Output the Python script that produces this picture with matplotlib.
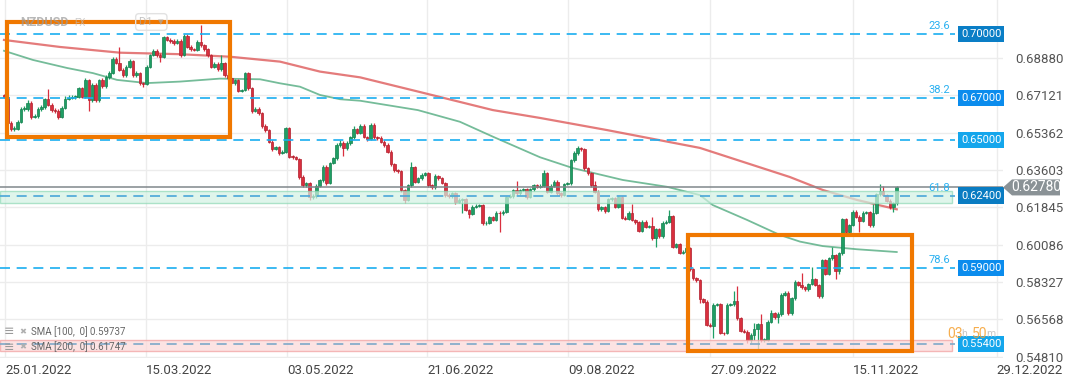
import numpy as np
import matplotlib
matplotlib.use('Agg')
from matplotlib import pyplot as plt
from matplotlib.patches import Rectangle, Polygon
import matplotlib.transforms as mtransforms

plt.rcParams['font.family'] = ['Roboto', 'DejaVu Sans']

# NZDUSD D1 candles (6 per week)
first_open = 0.6712
close = [
    # Jan - Mar
    0.6705, 0.6581, 0.6553, 0.6554, 0.6587, 0.6647, 0.6647, 0.6675, 0.6611, 0.6614,
    0.6647, 0.6656, 0.6694, 0.6666, 0.6642, 0.6639, 0.6611, 0.6652, 0.6694, 0.6699,
    0.6704, 0.6705, 0.6746, 0.6705, 0.6784, 0.6689, 0.6760, 0.6689, 0.6784, 0.6755,
    0.6798, 0.6816, 0.6882, 0.6865, 0.6831, 0.6807, 0.6845, 0.6874, 0.6807, 0.6816,
    0.6769, 0.6765, 0.6846, 0.6901, 0.6921, 0.6901, 0.6892, 0.6984, 0.6972, 0.6968,
    0.6958, 0.6967,
    # Apr - May
    0.6901, 0.6991, 0.6940, 0.6929, 0.6925, 0.6964, 0.6948, 0.6928, 0.6901, 0.6846,
    0.6859, 0.6835, 0.6864, 0.6807, 0.6793, 0.6769, 0.6784, 0.6732, 0.6736, 0.6815,
    0.6746, 0.6639, 0.6648, 0.6628, 0.6567, 0.6548, 0.6493, 0.6459, 0.6468, 0.6440,
    0.6446, 0.6558, 0.6423, 0.6421, 0.6412, 0.6328, 0.6289, 0.6299, 0.6234, 0.6238,
    0.6285, 0.6313, 0.6376, 0.6299, 0.6394, 0.6415, 0.6478, 0.6488, 0.6462, 0.6488,
    0.6514, 0.6552,
    # Jun - Jul
    0.6536, 0.6567, 0.6517, 0.6506, 0.6572, 0.6514, 0.6511, 0.6493, 0.6478, 0.6446,
    0.6388, 0.6360, 0.6355, 0.6266, 0.6219, 0.6289, 0.6373, 0.6305, 0.6321, 0.6336,
    0.6344, 0.6289, 0.6279, 0.6332, 0.6322, 0.6300, 0.6242, 0.6238, 0.6250, 0.6211,
    0.6219, 0.6222, 0.6172, 0.6153, 0.6187, 0.6191, 0.6194, 0.6109, 0.6111, 0.6137,
    0.6125, 0.6159, 0.6156, 0.6164, 0.6234, 0.6238, 0.6266, 0.6250, 0.6266, 0.6269,
    0.6233, 0.6269, 0.6289,
    # Aug - Sep
    0.6281, 0.6285, 0.6344, 0.6258, 0.6285, 0.6305, 0.6250, 0.6242, 0.6294, 0.6297,
    0.6407, 0.6439, 0.6462, 0.6457, 0.6368, 0.6344, 0.6289, 0.6258, 0.6175, 0.6184,
    0.6168, 0.6222, 0.6227, 0.6187, 0.6234, 0.6136, 0.6131, 0.6159, 0.6125, 0.6114,
    0.6074, 0.6117, 0.6093, 0.6096, 0.6039, 0.6081, 0.6049, 0.6112, 0.6117, 0.6144,
    0.5999, 0.6012, 0.5971, 0.5976, 0.5992,
    # Sep - Oct
    0.5893, 0.5850, 0.5842, 0.5752, 0.5740, 0.5631, 0.5627, 0.5725, 0.5728, 0.5594,
    0.5592, 0.5725, 0.5729, 0.5745, 0.5662, 0.5604, 0.5599, 0.5560, 0.5584, 0.5610,
    0.5635, 0.5560, 0.5560, 0.5646, 0.5686, 0.5667, 0.5682, 0.5772, 0.5783, 0.5686,
    0.5756, 0.5834,
    # Nov
    0.5819, 0.5808, 0.5799, 0.5824, 0.5846, 0.5819, 0.5767, 0.5936, 0.5871, 0.5944,
    0.5960, 0.5886, 0.5968, 0.6128, 0.6070, 0.6101, 0.6164, 0.6140, 0.6121, 0.6159,
    0.6161, 0.6101, 0.6159, 0.6247, 0.6263, 0.6242, 0.6216, 0.6184, 0.6203, 0.6278,
]
high = [
    .6720, .6712, .6590, .6565, .6595, .6655, .6660, .6690, .6684, .6625,
    .6655, .6668, .6700, .6740, .6675, .6650, .6648, .6660, .6708, .6712,
    .6712, .6715, .6752, .6752, .6795, .6790, .6768, .6768, .6790, .6792,
    .6806, .6826, .6890, .6890, .6940, .6840, .6852, .6882, .6880, .6825,
    .6822, .6775, .6852, .6908, .6930, .6928, .6910, .6992, .6990, .6980,
    .6975, .6975,
    .6975, .7000, .6998, .6948, .6935, .6972, .7042, .6955, .6935, .6908,
    .6866, .6866, .6901, .6870, .6815, .6800, .6790, .6790, .6742, .6822,
    .6822, .6752, .6655, .6655, .6635, .6575, .6555, .6500, .6475, .6475,
    .6455, .6562, .6562, .6430, .6428, .6418, .6335, .6305, .6305, .6248,
    .6292, .6320, .6385, .6382, .6400, .6422, .6485, .6500, .6495, .6495,
    .6522, .6565,
    .6560, .6575, .6575, .6522, .6580, .6580, .6520, .6518, .6500, .6485,
    .6452, .6395, .6365, .6362, .6272, .6295, .6399, .6380, .6328, .6345,
    .6350, .6350, .6295, .6340, .6338, .6328, .6305, .6250, .6258, .6256,
    .6226, .6228, .6228, .6178, .6193, .6198, .6200, .6200, .6118, .6145,
    .6145, .6166, .6165, .6170, .6240, .6245, .6272, .6308, .6272, .6276,
    .6275, .6276, .6296,
    .6296, .6292, .6360, .6350, .6292, .6312, .6312, .6256, .6300, .6304,
    .6412, .6448, .6473, .6468, .6462, .6375, .6350, .6310, .6264, .6190,
    .6190, .6228, .6234, .6234, .6240, .6240, .6142, .6165, .6200, .6130,
    .6120, .6124, .6124, .6102, .6139, .6088, .6088, .6118, .6124, .6170,
    .6150, .6018, .6018, .5982, .5998,
    .5998, .5900, .5856, .5848, .5758, .5746, .5638, .5732, .5735, .5734,
    .5600, .5732, .5736, .5790, .5814, .5668, .5610, .5606, .5592, .5640,
    .5642, .5682, .5568, .5652, .5700, .5692, .5690, .5780, .5790, .5790,
    .5762, .5842,
    .5840, .5875, .5814, .5830, .5905, .5852, .5825, .5942, .5942, .5950,
    .6000, .5966, .5975, .6135, .6134, .6108, .6170, .6170, .6146, .6166,
    .6168, .6168, .6200, .6254, .6294, .6285, .6248, .6222, .6210, .6284,
]
low = [
    .6698, .6570, .6543, .6545, .6548, .6580, .6638, .6640, .6600, .6603,
    .6606, .6640, .6648, .6660, .6635, .6630, .6600, .6605, .6645, .6688,
    .6692, .6696, .6700, .6698, .6700, .6639, .6682, .6680, .6682, .6748,
    .6748, .6790, .6810, .6858, .6825, .6800, .6800, .6838, .6800, .6800,
    .6760, .6752, .6758, .6840, .6895, .6892, .6870, .6885, .6965, .6960,
    .6950, .6952,
    .6890, .6895, .6932, .6920, .6918, .6918, .6940, .6920, .6890, .6838,
    .6840, .6828, .6828, .6800, .6785, .6760, .6762, .6725, .6725, .6730,
    .6738, .6630, .6632, .6620, .6560, .6540, .6485, .6450, .6452, .6430,
    .6435, .6440, .6415, .6412, .6405, .6320, .6280, .6282, .6219, .6225,
    .6230, .6278, .6305, .6290, .6292, .6388, .6408, .6470, .6425, .6455,
    .6480, .6508,
    .6528, .6530, .6510, .6495, .6500, .6505, .6502, .6486, .6470, .6438,
    .6380, .6352, .6348, .6258, .6206, .6212, .6282, .6298, .6298, .6315,
    .6330, .6282, .6270, .6272, .6315, .6292, .6235, .6230, .6230, .6200,
    .6205, .6159, .6165, .6133, .6146, .6180, .6185, .6100, .6100, .6105,
    .6118, .6118, .6070, .6150, .6158, .6228, .6230, .6242, .6244, .6260,
    .6225, .6226, .6262,
    .6274, .6276, .6278, .6250, .6252, .6278, .6242, .6235, .6236, .6288,
    .6290, .6400, .6432, .6448, .6360, .6336, .6282, .6250, .6168, .6168,
    .6160, .6162, .6215, .6180, .6180, .6128, .6124, .6125, .6118, .6106,
    .6066, .6068, .6086, .6088, .6032, .6000, .6042, .6042, .6106, .6110,
    .5992, .5992, .5964, .5966, .5970,
    .5885, .5842, .5835, .5734, .5732, .5624, .5620, .5570, .5718, .5586,
    .5585, .5586, .5718, .5722, .5655, .5596, .5592, .5546, .5548, .5560,
    .5513, .5552, .5550, .5553, .5640, .5660, .5640, .5675, .5765, .5680,
    .5680, .5750,
    .5812, .5800, .5792, .5790, .5818, .5812, .5760, .5760, .5864, .5864,
    .5938, .5846, .5870, .5960, .6062, .6062, .6095, .6132, .6070, .6114,
    .6152, .6094, .6094, .6152, .6240, .6236, .6208, .6176, .6164, .6196,
]

# moving averages, read at points along the lines (candle index, price)
sma100_idx = [0, 8.5, 18.6, 26.2, 33.3, 42.1, 51.8, 63.6, 75.4, 81.3, 87.2, 93.1, 99.0,
              104.9, 121.9, 134.3, 144.0, 157.9, 167.6, 182.3, 195.3, 205.0, 208.8,
              218.9, 228.6, 234.5, 241.2, 251.3, 263]
sma100_val = [0.6921, 0.6878, 0.6840, 0.6816, 0.6784, 0.6769, 0.6776, 0.6790, 0.6787,
              0.6768, 0.6752, 0.6713, 0.6693, 0.6686, 0.6642, 0.6587, 0.6517, 0.6420,
              0.6369, 0.6313, 0.6281, 0.6242, 0.6195, 0.6125, 0.6054, 0.6023, 0.6002,
              0.5987, 0.5974]
sma200_idx = [0, 16.5, 34.2, 51.8, 66.6, 81.3, 93.1, 104.9, 122.5, 144.0, 157.9, 177.6,
              205.0, 231.5, 241.2, 251.3, 263]
sma200_val = [0.6972, 0.6939, 0.6912, 0.6905, 0.6893, 0.6870, 0.6823, 0.6796, 0.6727,
              0.6642, 0.6605, 0.6548, 0.6464, 0.6327, 0.6266, 0.6219, 0.6175]

fib_levels = [0.70, 0.67, 0.65, 0.624, 0.59, 0.554]
fib_pct = ['23.6', '38.2', '', '61.8', '78.6', '']
fib_box_colors = ['#0a7ec6', '#0b8ced', '#14a6ec', '#0a7cc2', '#0b8ced', '#14a6ec']
last_price = 0.6278
price_ticks = [0.68880, 0.67121, 0.65362, 0.63603, 0.61845, 0.60086, 0.58327, 0.56568, 0.54810]
date_labels = ['25.01.2022', '15.03.2022', '03.05.2022', '21.06.2022',
               '09.08.2022', '27.09.2022', '15.11.2022', '29.12.2022']
date_pos = [0.3, 41.8, 83.4, 124.6, 166.1, 208.0, 250.1, 292.5]

close = np.array(close)
high = np.array(high)
low = np.array(low)
opens = np.r_[first_open, close[:-1]]
idx = np.arange(len(close))
high = np.maximum(high, np.maximum(opens, close))
low = np.minimum(low, np.minimum(opens, close))

W = 1003.0
fig = plt.figure(figsize=(10.72, 3.82), dpi=100)
ax = fig.add_axes([0, 24 / 382, W / 1072, 1 - 24 / 382])
ax.set_xlim(-1.18, 294.3)
ax.set_ylim(0.54753, 0.71600)
trans = mtransforms.blended_transform_factory(ax.transAxes, ax.transData)

for s in ax.spines.values():
    s.set_visible(False)
ax.yaxis.tick_right()
ax.set_yticks(price_ticks)
ax.set_yticklabels([f"{v:.5f}" for v in price_ticks])
ax.set_xticks(date_pos)
ax.set_xticklabels(date_labels, ha='left')
ax.tick_params(axis='y', length=0, pad=9, labelsize=9.5, labelcolor='#555555')
ax.tick_params(axis='x', length=0, pad=4, labelsize=9.5, labelcolor='#444444')
ax.grid(True, color='#ececec', lw=1, zorder=0)
ax.set_axisbelow(True)

# candles
up = close >= opens
col = np.where(up, '#1f9e64', '#d92f3e')
edge = np.where(up, '#15804f', '#b0212f')
ax.vlines(idx, low, high, colors=col, lw=0.9, zorder=3)
body_h = np.maximum(np.abs(close - opens), 0.0003)
ax.bar(idx, body_h, bottom=np.minimum(opens, close), width=0.75,
       color=col, edgecolor=edge, linewidth=0.5, zorder=4)

# moving averages
ax.plot(sma200_idx, sma200_val, color='#e06464', lw=1.6, alpha=0.85, zorder=2.5)
ax.plot(sma100_idx, sma100_val, color='#52ab80', lw=1.3, alpha=0.8, zorder=2.5)

# zones
ax.add_patch(Rectangle((0, 0.6203), 952 / W, 0.0059, transform=trans, fc='#d2f1e3',
                       ec='#8fd8b6', lw=1, alpha=0.7, zorder=5))
ax.add_patch(Rectangle((0, 0.5507), 952 / W, 0.0051, transform=trans, fc='#fcdada',
                       ec='#f2a3a3', lw=1, alpha=0.75, zorder=5))

# fibonacci levels
line_cols = ['#1aaef0', '#1aaef0', '#1aaef0', '#4aa6d8', '#1aaef0', '#7fa9c9']
for lv, pct, bc, lc in zip(fib_levels, fib_pct, fib_box_colors, line_cols):
    ax.plot([0, 955 / W], [lv, lv], transform=trans, color=lc, lw=1.2,
            ls=(0, (6, 4)), zorder=5.5)
    if pct:
        ax.text(950 / W, lv + 0.0012, pct, transform=trans, ha='right', va='bottom',
                color='#29b0f0', fontsize=8, zorder=7)
    ax.text(961 / W, lv, f"{lv:.5f}", transform=trans, ha='left', va='center',
            color='white', fontsize=8, zorder=8,
            bbox=dict(boxstyle='square,pad=0.28', fc=bc, ec='none'))

# current price line + label
ax.plot([0, 1], [last_price, last_price], transform=trans, color='#80878b', lw=1.1, zorder=5.6)
hh = 8 / 2125
ax.add_patch(Polygon([(1003 / W, last_price), (1012 / W, last_price + hh),
                      (1060 / W, last_price + hh), (1060 / W, last_price - hh),
                      (1012 / W, last_price - hh)], closed=True, transform=trans,
                     fc='#8a9296', ec='none', clip_on=False, zorder=8))
ax.text(1036 / W, last_price, f"{last_price:.5f}", transform=trans, ha='center',
        va='center', color='white', fontsize=10, clip_on=False, zorder=9)

# highlight boxes
ax.add_patch(Rectangle((0.9, 0.6516), 65.7, 0.0542, fill=False, ec='#f07800', lw=3, zorder=6))
ax.add_patch(Rectangle((201.5, 0.5508), 65.9, 0.0548, fill=False, ec='#f07800', lw=3, zorder=6))

# header
fig.text(20 / 1072, 1 - 22 / 382, 'NZDUSD', color='#9a9a9a', fontsize=9, fontweight='bold',
         va='center', alpha=0.7)
fig.text(74 / 1072, 1 - 23 / 382, 'FX', color='#bbbbbb', fontsize=7, va='center', alpha=0.7)
fig.text(139 / 1072, 1 - 22 / 382, 'D1  \u25be', color='#aaaaaa', fontsize=8, va='center',
         alpha=0.7, bbox=dict(boxstyle='round,pad=0.3', fc='none', ec='#e2e2e2'))

# indicator legend
for k, txt in enumerate(['SMA [100,  0] 0.59737', 'SMA [200,  0] 0.61747']):
    y = 1 - (332 + k * 15) / 382
    fig.text(4 / 1072, y, '\u2261', color='#9a9a9a', fontsize=9, va='center',
             family=['DejaVu Sans'])
    fig.text(19 / 1072, y, '\u2716', color='#b0b0b0', fontsize=6, va='center',
             family=['DejaVu Sans'])
    fig.text(31 / 1072, y, txt, color='#666666', fontsize=7, va='center')

# candle countdown
x0 = 947 / 1072
yc = 1 - 334 / 382
for txt, c, fs, dx in [('03', '#f5a030', 10, 0), ('h', '#bdbdbd', 7.5, 14),
                       ('50', '#f5a030', 10, 25), ('m', '#bdbdbd', 7.5, 39)]:
    fig.text(x0 + dx / 1072, yc, txt, color=c, fontsize=fs, va='center', alpha=0.85)

fig.savefig('out.png', dpi=100, facecolor='white')
